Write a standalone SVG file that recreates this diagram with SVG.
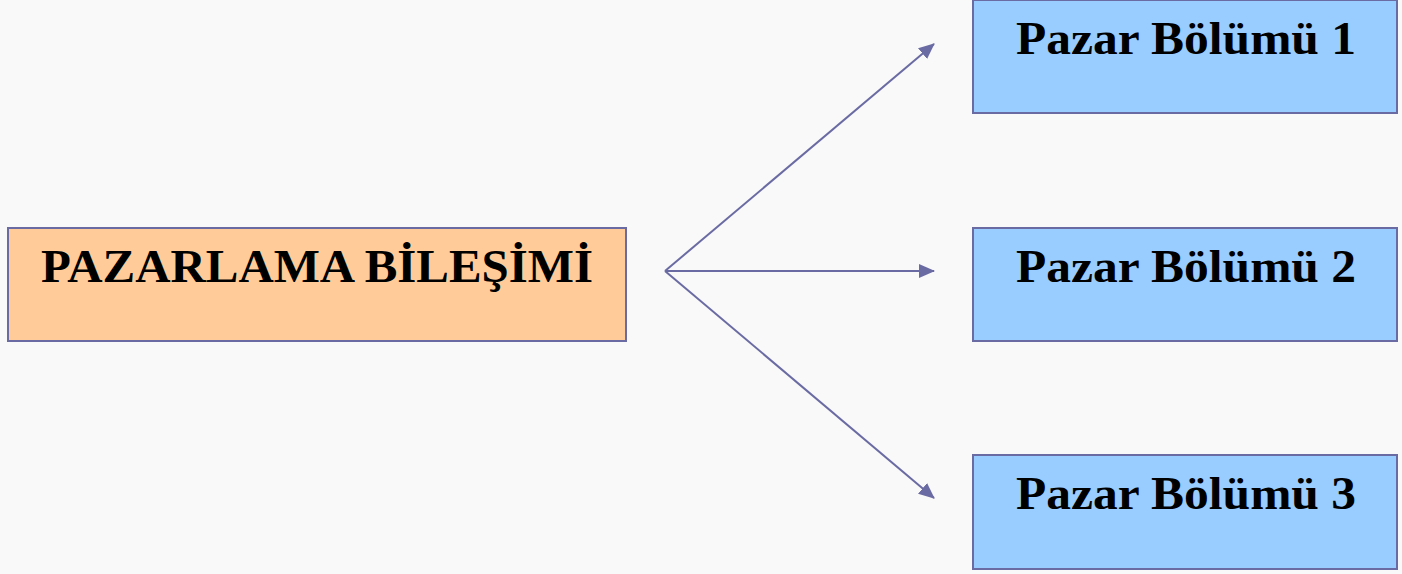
<svg xmlns="http://www.w3.org/2000/svg" width="1402" height="574" viewBox="0 0 1402 574">
  <style>
    .box { stroke: #6B6BA3; stroke-width: 2; }
    .src { fill: #FFCC99; }
    .seg { fill: #99CCFF; }
    .label { font-family: "Liberation Serif", "DejaVu Serif", serif; font-weight: bold; font-size: 46px; fill: #000; text-anchor: middle; }
    .conn { stroke: #6B6BA3; stroke-width: 2; fill: none; marker-end: url(#arrow); }
  </style>
  <defs>
    <marker id="arrow" viewBox="0 0 16 14" refX="15" refY="7" markerWidth="16" markerHeight="14" markerUnits="userSpaceOnUse" orient="auto">
      <path d="M0,0 L16,7 L0,14 z" fill="#6B6BA3"/>
    </marker>
  </defs>
  <rect x="0" y="0" width="1402" height="574" fill="#F9F9F9"/>

  <g id="connectors">
    <line class="conn" x1="665" y1="271" x2="934" y2="44"/>
    <line class="conn" x1="665" y1="271" x2="934" y2="271"/>
    <line class="conn" x1="665" y1="271" x2="934" y2="498"/>
  </g>

  <g id="pazarlama-bilesimi">
    <rect class="box src" x="8" y="228" width="618" height="113"/>
    <text class="label" x="317" y="282" textLength="552" lengthAdjust="spacingAndGlyphs">PAZARLAMA BİLEŞİMİ</text>
  </g>

  <g id="pazar-bolumu-1">
    <rect class="box seg" x="973" y="0" width="424" height="113"/>
    <text class="label" x="1186" y="54" textLength="340" lengthAdjust="spacingAndGlyphs">Pazar Bölümü 1</text>
  </g>

  <g id="pazar-bolumu-2">
    <rect class="box seg" x="973" y="228" width="424" height="113"/>
    <text class="label" x="1186" y="282" textLength="340" lengthAdjust="spacingAndGlyphs">Pazar Bölümü 2</text>
  </g>

  <g id="pazar-bolumu-3">
    <rect class="box seg" x="973" y="455" width="424" height="114"/>
    <text class="label" x="1186" y="509" textLength="340" lengthAdjust="spacingAndGlyphs">Pazar Bölümü 3</text>
  </g>
</svg>
